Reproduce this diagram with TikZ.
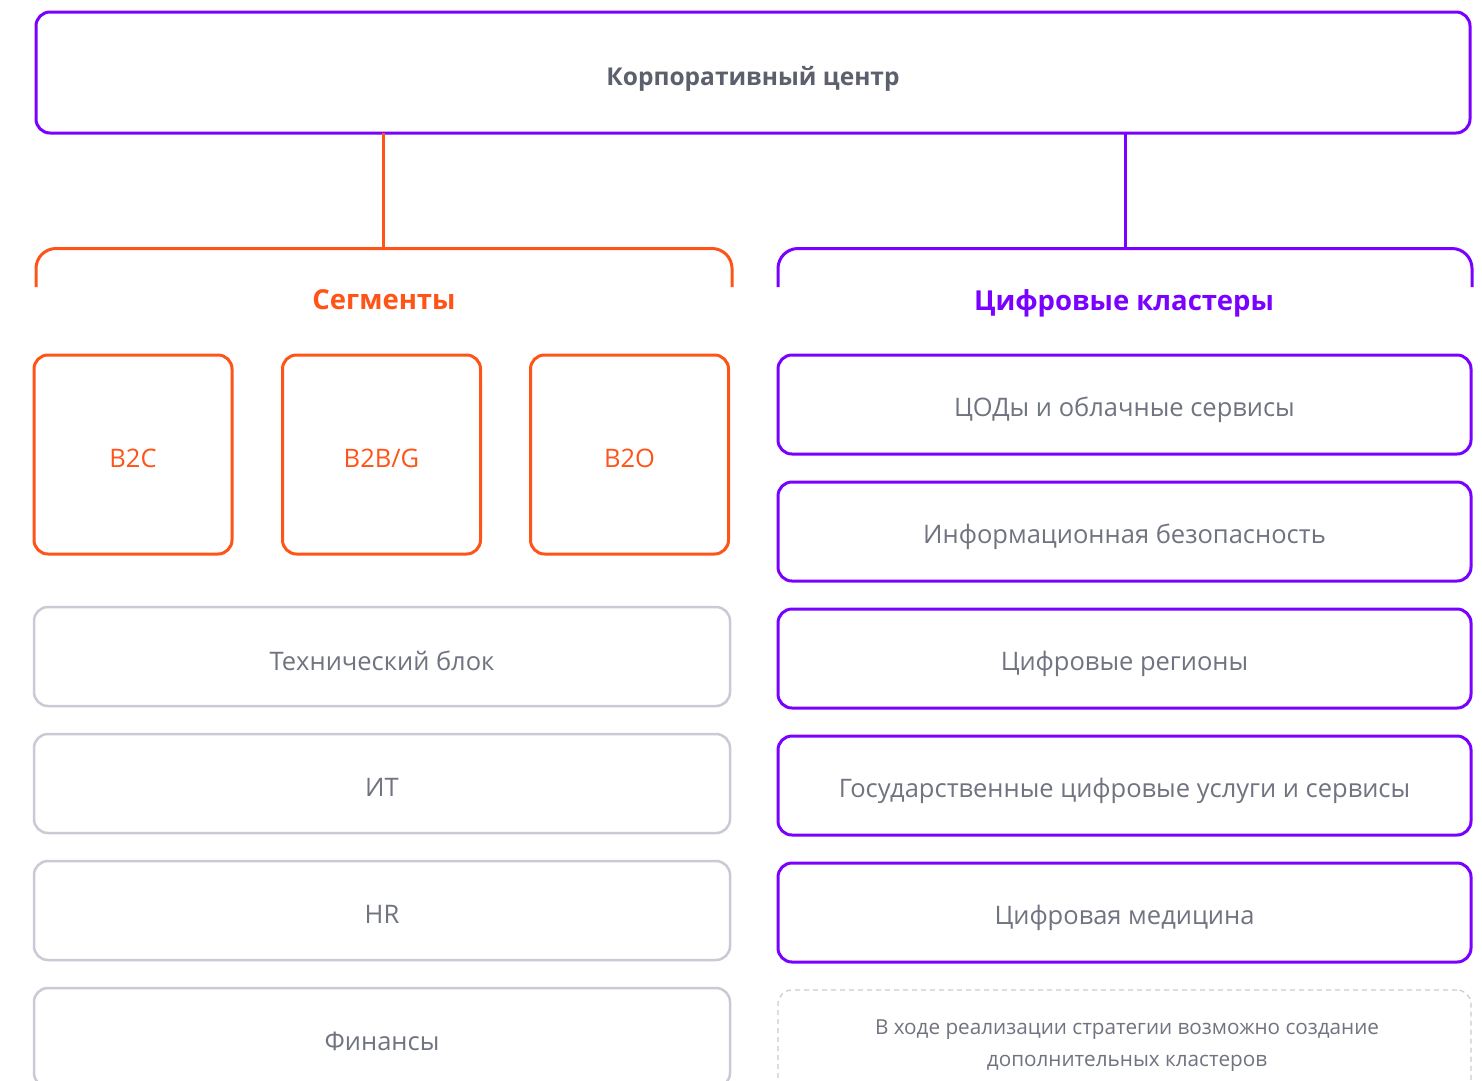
\documentclass[tikz,border=0pt]{standalone}
\usepackage{fontspec}
\setmainfont{Open Sans}
\definecolor{purp}{HTML}{7A00FF}
\definecolor{orng}{HTML}{FF5418}
\definecolor{gbord}{HTML}{CACAD6}
\definecolor{gtext}{HTML}{707380}
\definecolor{ttext}{HTML}{5C5F6C}
\newcommand{\dn}[2][5pt]{\raisebox{-#1}[\height][\depth]{#2}}
\begin{document}
\begin{tikzpicture}[x=1pt,y=-1pt,
  base/.style={rectangle,rounded corners=14pt,line width=3pt,inner sep=0pt,align=center,
     font=\fontsize{25.5}{30}\selectfont,text=gtext},
  topbox/.style={base,draw=purp,minimum width=1434pt,minimum height=121pt,
     font=\fontsize{24.5}{29}\selectfont\bfseries,text=ttext},
  segbox/.style={base,draw=orng,text=orng,minimum width=198pt,minimum height=199pt},
  funcbox/.style={base,draw=gbord,line width=2.5pt,minimum width=696pt,minimum height=99pt},
  clbox/.style={base,draw=purp,minimum width=693pt,minimum height=99pt},
  dashbox/.style={base,draw=gbord,line width=1.2pt,dash pattern=on 5pt off 4pt,minimum width=693pt,minimum height=160pt},
  note/.style={font=\fontsize{20.7}{32}\selectfont,text=gtext,align=center,inner sep=0pt},
  head/.style={font=\fontsize{27.5}{32}\selectfont\bfseries,inner sep=0pt},
  bracket/.style={line width=3pt,rounded corners=20pt}
]
\useasboundingbox[fill=white] (0,0) rectangle (1482,1080);

\node[topbox] (top) at (753,72.5) {\dn[6pt]{Корпоративный центр}};

% bracket corners
\coordinate (sl) at (36,287);
\coordinate (sr) at (732,287);
\coordinate (cl) at (778,287);
\coordinate (cr) at (1472,287);
\coordinate (sj) at (383,248.5);
\coordinate (cj) at (1125,248.5);
\coordinate (st) at (383,133);
\coordinate (ct) at (1125,133);

\draw[bracket,orng] (sl) -- (36,248.5) -- (732,248.5) -- (sr);
\draw[bracket,purp] (cl) -- (778,248.5) -- (1472,248.5) -- (cr);
\draw[orng,line width=3pt] (st) -- (sj);
\draw[purp,line width=3pt] (ct) -- (cj);

\node[head,text=orng] (seg) at (384,300) {Сегменты};
\node[head,text=purp] (clu) at (1124,303) {Цифровые кластеры};

\node[segbox] (b2c) at (133,454.5) {\dn[4pt]{B2C}};
\node[segbox] (b2b) at (381.5,454.5) {\dn[4pt]{B2B/G}};
\node[segbox] (b2o) at (629.5,454.5) {\dn[4pt]{B2O}};

\node[funcbox] (tech) at (382,656.5) {\dn[4pt]{Технический блок}};
\node[funcbox] (it) at (382,783.5) {\dn[4pt]{ИТ}};
\node[funcbox] (hr) at (382,910.5) {\dn[4pt]{HR}};
\node[funcbox] (fin) at (382,1037.5) {\dn[4pt]{Финансы}};

\node[clbox] (c1) at (1124.5,404.5) {\dn{ЦОДы и облачные сервисы}};
\node[clbox] (c2) at (1124.5,531.5) {\dn{Информационная безопасность}};
\node[clbox] (c3) at (1124.5,658.5) {\dn{Цифровые регионы}};
\node[clbox] (c4) at (1124.5,785.5) {\dn{Государственные цифровые услуги и сервисы}};
\node[clbox] (c5) at (1124.5,912.5) {\dn{Цифровая медицина}};
\node[dashbox] (c6) at (1124.5,1070) {};
\node[note] (c6t) at (1127,1046) {В ходе реализации стратегии возможно создание\\дополнительных кластеров};
\end{tikzpicture}
\end{document}
